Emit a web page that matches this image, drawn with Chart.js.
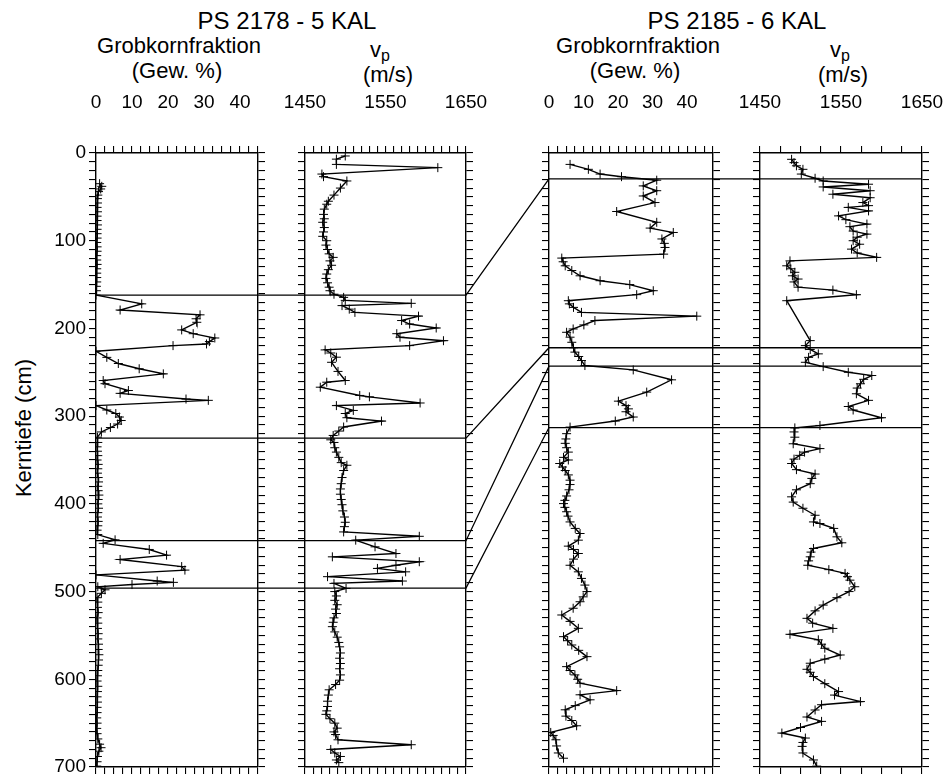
<!DOCTYPE html>
<html>
<head>
<meta charset="utf-8">
<script src="https://cdn.jsdelivr.net/npm/chart.js@4.4.1/dist/chart.umd.min.js"></script>
<style>
html, body { margin: 0; padding: 0; background: #fff; overflow: hidden; }
#wrap { position: relative; width: 946px; height: 776px; font-family: "Liberation Sans", Arial, sans-serif; color: #000; }
canvas { position: absolute; top: 0; }
.lbl { position: absolute; white-space: nowrap; transform: translate(-50%, -50%); line-height: 1; }
.big { font-size: 24px; }
.mid { font-size: 22px; }
.lbl sub { font-size: 16px; position: relative; top: 4px; vertical-align: baseline; }
.rot { transform: translate(-50%, -50%) rotate(-90deg); }
</style>
</head>
<body>
<div id="wrap">
  <div class="lbl big" style="left:287px; top:21px">PS 2178 - 5 KAL</div>
  <div class="lbl big" style="left:737px; top:21px">PS 2185 - 6 KAL</div>
  <div class="lbl mid" style="left:179px; top:46px">Grobkornfraktion</div>
  <div class="lbl mid" style="left:177px; top:71px">(Gew. %)</div>
  <div class="lbl mid" style="left:380px; top:50px">v<sub>p</sub></div>
  <div class="lbl mid" style="left:388px; top:75px">(m/s)</div>
  <div class="lbl mid" style="left:638px; top:46px">Grobkornfraktion</div>
  <div class="lbl mid" style="left:635px; top:71px">(Gew. %)</div>
  <div class="lbl mid" style="left:840px; top:50px">v<sub>p</sub></div>
  <div class="lbl mid" style="left:843px; top:75px">(m/s)</div>
  <div class="lbl mid rot" style="left:24px; top:428px">Kerntiefe (cm)</div>

  <canvas id="c1" width="268" height="776" style="left:0px"></canvas>
  <canvas id="c2" width="221" height="776" style="left:275px"></canvas>
  <canvas id="c3" width="224" height="776" style="left:519px"></canvas>
  <canvas id="c4" width="216" height="776" style="left:730px"></canvas>
  <canvas id="ties" width="946" height="776" style="left:0px"></canvas>
</div>

<script>
// PS 2178 - 5 KAL, Grobkornfraktion (Gew. %)
const grob2178Depth = [35, 38, 41, 44, 48, 52, 57, 62, 67, 72, 77, 82, 87, 92, 97, 102, 107, 112, 117, 122, 127, 132, 137, 142, 147, 152, 157,
  162, 172, 179, 184.5, 189, 193, 201.7, 206, 210.9, 215, 217.7, 219.6, 226, 233, 240, 246, 251.8, 259.4, 263, 270.8, 274, 280.5, 282,
  288, 293, 297, 301, 305, 309, 313, 318, 324,
  330, 335, 340, 345, 350, 355, 360, 365, 370, 375, 380, 385, 390, 395, 400, 405, 410, 415, 420, 425, 430, 435,
  441, 445, 452, 458.5, 463.4, 471.5, 475.5, 481, 488, 489.5, 492, 494.5, 498, 502, 507,
  512, 518, 524, 530, 536, 542, 548, 554, 560, 566, 572, 578, 584, 590, 596, 602, 608, 614, 620, 626, 632, 638, 644, 650, 656, 662, 668, 674, 678, 682, 688, 694, 699];
const grob2178 = [1.0, 1.6, 1.3, 0.7, 0.5, 0.4, 0.4, 0.3, 0.4, 0.3, 0.3, 0.4, 0.3, 0.3, 0.3, 0.2, 0.3, 0.3, 0.2, 0.2, 0.3, 0.2, 0.2, 0.2, 0.2, 0.1, 0.1,
  0, 12.7, 6.7, 28.9, 27.8, 28, 23.8, 27, 33, 31.5, 30.7, 21.4, 0, 3, 6.2, 12, 18.7, 2, 2.5, 9, 6.7, 25, 31.2,
  0, 3, 5.5, 6.5, 7, 6, 4, 1.5, 0.4,
  0.5, 0.3, 0.4, 0.5, 0.3, 0.6, 0.5, 0.4, 0.6, 0.7, 0.5, 0.6, 0.8, 0.6, 0.5, 0.7, 0.5, 0.4, 0.6, 0.5, 0.3, 0.5,
  5.3, 2, 14.8, 19.6, 6.7, 23.8, 24.7, 0, 17, 21.5, 10, 0.5, 2.5, 1.5, 0.3,
  0.5, 0.4, 0.6, 0.3, 0.5, 0.4, 0.6, 0.5, 0.7, 0.6, 0.8, 0.7, 0.6, 0.5, 0.4, 0.3, 0.5, 0.4, 0.3, 0.4, 0.3, 0.3, 0.2, 0.3, 0.2, 0.3, 0.5, 1.0, 1.4, 0.8, 0.4, 0.3, 0.2];

// PS 2178 - 5 KAL, vp (m/s)
const vp2178Depth = [3.4, 7, 13, 16.7, 24, 27, 31.9, 40, 48, 55, 58.4, 64, 70, 75, 79, 85, 90, 95, 100, 105, 110, 115, 119, 123, 128, 133, 138, 143, 148, 153, 157, 161,
  164.6, 168, 171.4, 174, 178, 181.7, 186, 191, 195, 199.5, 206, 210, 214, 219.6, 224.5, 228, 232.8, 238.6, 249, 259.4, 261.3, 267, 276.4, 278, 285, 288, 293.5, 297, 301.8, 305.6, 312.4, 317, 322, 327,
  330, 336, 341, 347, 353, 356, 362, 370, 377, 383, 389, 395, 401, 408, 415, 421, 426, 432,
  437, 441.4, 449, 456.6, 460.4, 466, 470, 473.6, 477.5, 483, 488, 490.7, 496.4, 500,
  505, 510, 515, 520, 525, 530, 535, 540, 546, 552, 558, 563, 570, 576, 582, 588, 595, 601, 606, 612, 618, 625, 631, 636, 640, 645, 650, 655.7, 660, 663, 669, 674.6, 680, 684, 688, 692, 695];
const vp2178 = [1500, 1489, 1489, 1615, 1471, 1473, 1502, 1494, 1486, 1479, 1477, 1474, 1473, 1474, 1472, 1474, 1473, 1472, 1477, 1476, 1478, 1480, 1485, 1481, 1483, 1479, 1477, 1476, 1478, 1480, 1481, 1486,
  1498, 1500, 1582, 1496, 1505, 1512, 1591, 1570, 1580, 1613, 1564, 1568, 1622, 1580, 1475, 1482, 1489, 1483, 1491, 1500, 1477, 1469, 1518, 1530, 1593, 1489, 1510, 1500, 1502, 1545, 1498, 1492, 1485, 1482,
  1486, 1487, 1489, 1492, 1495, 1502, 1498, 1496, 1495, 1494, 1494, 1495, 1496, 1497, 1499, 1500, 1499, 1498,
  1592, 1513, 1537, 1563, 1484, 1592, 1563, 1540, 1575, 1478, 1571, 1486, 1501, 1487,
  1489, 1487, 1490, 1488, 1489, 1486, 1485, 1484, 1487, 1490, 1492, 1493, 1494, 1493, 1494, 1493, 1494, 1493, 1488, 1480, 1479, 1478, 1478, 1477, 1476, 1481, 1487, 1490, 1486, 1488, 1491, 1582, 1482, 1487, 1494, 1489, 1492];

// PS 2185 - 6 KAL, Grobkornfraktion (Gew. %)
const grob2185Depth = [13, 18.6, 24, 27, 31, 37.5, 43, 49, 56.5, 66.7, 79, 85.6, 90.6, 98, 103, 107.7, 115.3, 119.8, 124, 128.6, 134, 140, 145.6, 150, 157, 161.5, 168.4, 172, 176, 181.7, 186, 191, 196, 200.6, 204.4, 210,
  215.8, 222, 227, 232, 236.6, 242.3, 247.3, 258.6, 272.6, 282.9, 288, 291.7, 295, 301, 305.6, 312.5,
  320, 326, 331, 336, 341, 347, 350, 354, 358, 362, 367, 373, 378, 384, 391, 396, 399.7, 404, 409, 414, 420.6, 428, 433.8, 441.4, 448.2, 452, 456.6, 463, 470, 477.5, 485, 492.6, 500, 506, 511.6, 519, 526.7, 534, 541.9, 551.4, 556, 560.9, 567, 574.2, 585.6, 590, 595, 600, 604.5, 612.9, 617.7, 623.4, 630, 634.8, 642, 647, 653, 660.6, 664, 669, 676, 684, 690];
const grob2185 = [6.1, 11.4, 14.8, 21, 31.2, 27.3, 31.2, 27.3, 30.7, 19.6, 31.2, 29.3, 36, 32.7, 33.4, 33.6, 33.2, 3.7, 4.1, 4.7, 6.6, 9, 14.8, 23.4, 30.2, 25.4, 5.6, 5.9, 7.1, 9.4, 42.8, 13.3, 10.1, 7, 5.1, 6.1,
  6.6, 7.1, 7.5, 8.6, 9.4, 10.4, 24.4, 35.5, 28.3, 20.1, 22.3, 23, 22.3, 24.4, 19.2, 6.1,
  5.1, 4.9, 4.7, 5.1, 5.6, 4.2, 5.6, 3.1, 3.9, 4.7, 5.6, 6.1, 6.1, 5.8, 5.1, 4.6, 4.2, 4.6, 5.1, 5.5, 6.1, 7.6, 9, 8.5, 5.6, 7.1, 8.5, 7.1, 6.1, 8.5, 9.4, 10.4, 11, 9.9, 9, 7, 3.7, 6.1, 8.5, 4.2, 5.4, 6.6, 8.6, 11, 5.1, 6.1, 7.5, 8.3, 9, 19.6, 9, 11.9, 7.6, 4.7, 4.9, 6.6, 8, 0.5, 1.2, 2, 2.2, 2.7, 4.2];

// PS 2185 - 6 KAL, vp (m/s)
const vp2185Depth = [7.2, 11, 14.6, 18.6, 24, 28.8, 31.9, 35.6, 38.7, 43, 47, 51, 56.5, 60, 62, 66, 71.7, 76, 81, 84, 89, 92.5, 96, 100, 104, 109.6, 114, 119, 123, 128.6, 132, 136, 140, 143.7, 147, 153, 156.3, 161.5, 168.4,
  213.9, 219.6, 224, 229, 233, 238.6, 243.5, 250, 253.7, 258, 263.1, 268, 274.5, 282, 289, 293, 301.8, 310.6, 313.4, 318, 324, 331.5, 337, 341, 344.7, 349, 354, 361, 366, 371, 377, 384, 392, 398, 405, 413, 420.6, 422.4, 428, 437.6, 444.4, 450.9, 455, 460.4, 465, 470, 475, 479.3, 483, 487, 494.5, 500, 507, 515.4, 522, 530.5, 536, 542, 548.7, 555, 560, 564.6, 572.3, 577, 581.7, 588.6, 592, 596.9, 605, 614, 618, 625.4, 629, 635, 643, 648, 655, 661.3, 667, 672, 676.5, 684, 692, 699];
const vp2185 = [1489, 1492, 1495, 1503, 1501, 1518, 1528, 1584, 1528, 1586, 1540, 1586, 1577, 1584, 1559, 1584, 1547, 1556, 1582, 1561, 1565, 1582, 1570, 1565, 1573, 1563, 1570, 1594, 1487, 1483, 1488, 1493, 1490, 1497, 1492, 1497, 1540, 1569, 1483,
  1512, 1506, 1512, 1522, 1510, 1506, 1528, 1559, 1588, 1578, 1574, 1570, 1569, 1584, 1559, 1565, 1600, 1524, 1493, 1492, 1493, 1491, 1524, 1505, 1499, 1492, 1489, 1495, 1518, 1514, 1512, 1495, 1489, 1491, 1503, 1518, 1516, 1524, 1541, 1545, 1551, 1516, 1513, 1512, 1510, 1509, 1535, 1555, 1558, 1561, 1567, 1560, 1545, 1528, 1518, 1508, 1515, 1540, 1487, 1522, 1526, 1530, 1549, 1530, 1512, 1508, 1512, 1516, 1530, 1547, 1542, 1574, 1526, 1518, 1508, 1526, 1500, 1477, 1506, 1503, 1502, 1503, 1516, 1520];

// correlation ties (depth in cm)
const ties2178 = [162, 325, 442, 496];
const ties2185 = [29.5, 222, 243, 313];

const grobTicks = [0, 10, 20, 30, 40];
const vpTicks = [1450, 1550, 1650];
const depthTicks = [0, 100, 200, 300, 400, 500, 600, 700];

const FONT = '"Liberation Sans", Arial, sans-serif';
const AREA_TOP = 153;
const AREA_BOTTOM = 767;

function pts(vals, depths) {
  return vals.map((v, i) => ({ x: v, y: depths[i] }));
}

function makePanel(id, opt) {
  const canvas = document.getElementById(id);
  const edge = { color: '#000', width: 1.4 };
  const gridTicks = { drawOnChartArea: false, drawTicks: true, tickLength: 7, color: '#000', lineWidth: 1.1 };
  return new Chart(canvas.getContext('2d'), {
    type: 'scatter',
    data: {
      datasets: [{
        data: pts(opt.values, opt.depths),
        showLine: true,
        borderColor: '#000',
        borderWidth: 1.4,
        tension: 0,
        pointStyle: 'cross',
        pointRadius: 4.5,
        pointBorderWidth: 1,
        pointBorderColor: '#000',
        xAxisID: 'x',
        yAxisID: 'y'
      }]
    },
    options: {
      responsive: false,
      animation: false,
      events: [],
      plugins: { legend: { display: false }, tooltip: { enabled: false } },
      layout: { padding: 0 },
      scales: {
        x: {
          type: 'linear', position: 'top', min: opt.min, max: opt.max,
          ticks: {
            // tall line height lifts the labels well above the frame without extra side padding
            stepSize: opt.step, autoSkip: false, maxRotation: 0, padding: 0, color: '#000',
            font: { size: 19, family: FONT, lineHeight: 4.5 },
            callback: v => opt.labels.some(t => Math.abs(t - v) < 1e-6) ? String(v) : ''
          },
          grid: gridTicks, border: edge,
          afterFit: s => { s.height = AREA_TOP; }
        },
        x2: {
          type: 'linear', position: 'bottom', min: opt.min, max: opt.max,
          ticks: { stepSize: opt.step, autoSkip: false, display: false },
          grid: gridTicks, border: edge,
          afterFit: s => { s.height = 776 - AREA_BOTTOM; }
        },
        y: {
          type: 'linear', position: 'left', reverse: true, min: 0, max: 700,
          ticks: {
            stepSize: 10, autoSkip: false, display: !!opt.depthLabels, padding: 3, color: '#000',
            font: { size: 19, family: FONT, lineHeight: 0.4 },
            callback: v => depthTicks.includes(v) ? String(v) : ''
          },
          grid: gridTicks, border: edge,
          afterFit: s => { s.width = opt.leftW; }
        },
        y2: {
          type: 'linear', position: 'right', reverse: true, min: 0, max: 700,
          ticks: { stepSize: 10, autoSkip: false, display: false },
          grid: gridTicks, border: edge,
          afterFit: s => { s.width = opt.rightW; }
        }
      }
    }
  });
}

const panels = [
  { id: 'c1', left: 0,   values: grob2178, depths: grob2178Depth, min: 0, max: 45,   step: 2.5, labels: grobTicks, leftW: 96, rightW: 10, depthLabels: true },
  { id: 'c2', left: 275, values: vp2178,   depths: vp2178Depth,   min: 1450, max: 1650, step: 10, labels: vpTicks, leftW: 30, rightW: 30 },
  { id: 'c3', left: 519, values: grob2185, depths: grob2185Depth, min: 0, max: 47.5, step: 2.5, labels: grobTicks, leftW: 30, rightW: 30 },
  { id: 'c4', left: 730, values: vp2185,   depths: vp2185Depth,   min: 1450, max: 1650, step: 25, labels: vpTicks, leftW: 30, rightW: 24 }
];

const charts = panels.map(p => makePanel(p.id, p));

function drawTies() {
  const ctx = document.getElementById('ties').getContext('2d');
  const [c1, c2, c3, c4] = charts;
  ctx.strokeStyle = '#000';
  ctx.lineWidth = 1.3;
  ties2178.forEach((d, i) => {
    const yL = c1.scales.y.getPixelForValue(d);
    const yR = c3.scales.y.getPixelForValue(ties2185[i]);
    ctx.beginPath();
    ctx.moveTo(panels[0].left + c1.chartArea.left, yL);
    ctx.lineTo(panels[1].left + c2.chartArea.right, yL);
    ctx.lineTo(panels[2].left + c3.chartArea.left, yR);
    ctx.lineTo(panels[3].left + c4.chartArea.right, yR);
    ctx.stroke();
  });
}

drawTies();
</script>
</body>
</html>
